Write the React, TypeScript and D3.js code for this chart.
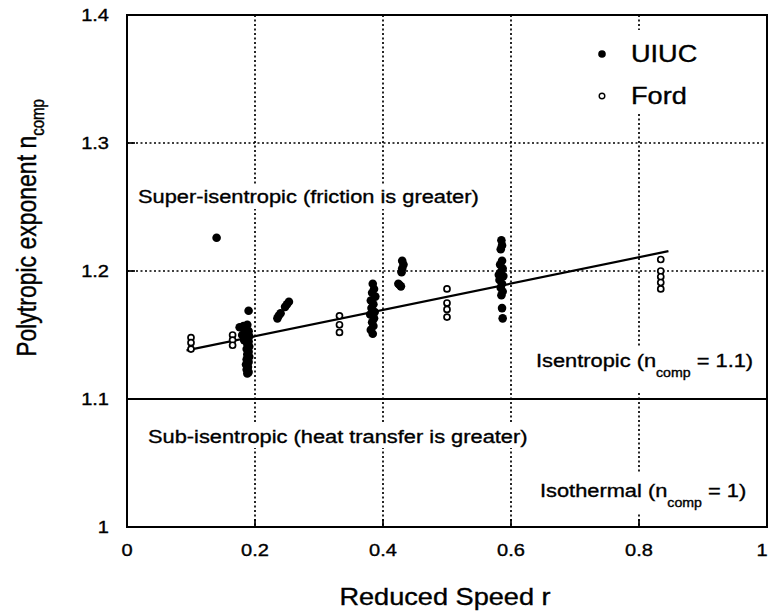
import React from "react";
import * as d3 from "d3";

const xTicks = [0, 0.2, 0.4, 0.6, 0.8, 1];
const xTickLabels = ["0", "0.2", "0.4", "0.6", "0.8", "1"];
const yTicks = [1, 1.1, 1.2, 1.3, 1.4];
const yTickLabels = ["1", "1.1", "1.2", "1.3", "1.4"];

const uiucR = [
  0.14, 0.19,
  0.176, 0.182, 0.188, 0.185, 0.19, 0.186, 0.191, 0.187, 0.19, 0.188, 0.191, 0.187, 0.19, 0.188, 0.191, 0.187, 0.19, 0.186, 0.189, 0.187, 0.19, 0.188, 0.18, 0.183,
  0.235, 0.237, 0.24, 0.247, 0.25, 0.253,
  0.384, 0.386, 0.383, 0.388, 0.381, 0.385, 0.382, 0.387, 0.38, 0.386, 0.383, 0.385, 0.381, 0.384,
  0.43, 0.432, 0.43, 0.429, 0.424, 0.428, 0.426,
  0.585, 0.586, 0.584, 0.586, 0.583, 0.587, 0.584, 0.588, 0.582, 0.586, 0.584, 0.587, 0.585, 0.581, 0.586, 0.587,
];
const uiucN = [
  1.226, 1.169,
  1.156, 1.157, 1.158, 1.155, 1.153, 1.151, 1.149, 1.147, 1.145, 1.143, 1.141, 1.139, 1.137, 1.135, 1.133, 1.131, 1.129, 1.127, 1.125, 1.123, 1.121, 1.12, 1.15, 1.146,
  1.163, 1.165, 1.167, 1.172, 1.174, 1.176,
  1.19, 1.186, 1.183, 1.18, 1.177, 1.174, 1.171, 1.168, 1.166, 1.163, 1.16, 1.157, 1.154, 1.151,
  1.208, 1.205, 1.202, 1.199, 1.19, 1.188, 1.189,
  1.224, 1.22, 1.217, 1.208, 1.205, 1.202, 1.199, 1.196, 1.193, 1.19, 1.187, 1.184, 1.181, 1.197, 1.171, 1.163,
];

const fordR = [0.1, 0.1, 0.1, 0.165, 0.165, 0.165, 0.332, 0.332, 0.332, 0.5, 0.5, 0.5, 0.5, 0.834, 0.834, 0.834, 0.834, 0.834];
const fordN = [1.148, 1.144, 1.139, 1.15, 1.146, 1.142, 1.165, 1.158, 1.152, 1.186, 1.175, 1.17, 1.164, 1.209, 1.2, 1.1955, 1.191, 1.186];

const fitR = [0.093, 0.846];
const fitN = [1.138, 1.2155];

const W = 770;
const H = 615;
const left = 127;
const right = 767;
const top = 15;
const bottom = 527;
const SX = 1.18;

const FONT = "'Liberation Sans', Arial, sans-serif";

function SText(props: { x: number; y: number; size: number; anchor?: string; children: React.ReactNode }) {
  const { x, y, size, anchor, children } = props;
  return (
    <text
      transform={`translate(${x},${y}) scale(${SX},1)`}
      fontSize={size}
      textAnchor={anchor || "start"}
      fill="#000"
      stroke="#000"
      strokeWidth={0.35}
    >
      {children}
    </text>
  );
}

export default function App() {
  const x = d3.scaleLinear().domain([0, 1]).range([left, right]);
  const y = d3.scaleLinear().domain([1, 1.4]).range([bottom, top]);
  const line = d3
    .line<number>()
    .x((_, i) => x(fitR[i]))
    .y((_, i) => y(fitN[i]));

  const dash = "2,2.5";

  return (
    <svg
      width={W}
      height={H}
      style={{ position: "absolute", left: 0, top: 0, background: "#fff" }}
      fontFamily={FONT}
    >
      <rect x={0} y={0} width={W} height={H} fill="#fff" />
      {/* vertical gridlines */}
      {xTicks.slice(1, -1).map((t) => (
        <g key={"vx" + t}>
          <line x1={x(t)} x2={x(t)} y1={top} y2={bottom} stroke="#000" strokeWidth={1.7} strokeDasharray={dash} />
          <line x1={x(t)} x2={x(t)} y1={bottom - 8} y2={bottom} stroke="#000" strokeWidth={1.7} />
        </g>
      ))}
      {/* horizontal gridlines */}
      {[1.2, 1.3].map((t) => (
        <g key={"hy" + t}>
          <line x1={left} x2={right} y1={y(t)} y2={y(t)} stroke="#000" strokeWidth={1.7} strokeDasharray={dash} />
          <line x1={left} x2={left + 8} y1={y(t)} y2={y(t)} stroke="#000" strokeWidth={1.7} />
        </g>
      ))}
      {/* isentropic line */}
      <line x1={left} x2={right} y1={y(1.1)} y2={y(1.1)} stroke="#000" strokeWidth={2} />

      {/* annotation backgrounds and texts */}
      <rect x={136} y={185} width={350} height={24} fill="#fff" />
      <SText x={138} y={203} size={18.5}>Super-isentropic (friction is greater)</SText>

      <rect x={534} y={348} width={222} height={44} fill="#fff" />
      <SText x={536} y={367} size={18.5}>
        Isentropic (n
        <tspan fontSize={12} dy={10}>comp</tspan>
        <tspan dy={-10}> = 1.1)</tspan>
      </SText>

      <rect x={146} y={424} width={390} height={24} fill="#fff" />
      <SText x={148} y={443} size={18.5}>Sub-isentropic (heat transfer is greater)</SText>

      <rect x={538} y={474} width={216} height={40} fill="#fff" />
      <SText x={540} y={497} size={18.5}>
        Isothermal (n
        <tspan fontSize={12} dy={10}>comp</tspan>
        <tspan dy={-10}> = 1)</tspan>
      </SText>

      {/* legend */}
      <rect x={588} y={30} width={122} height={82} fill="#fff" />
      <circle cx={602} cy={54} r={3.8} fill="#000" />
      <SText x={631} y={62} size={23}>UIUC</SText>
      <circle cx={602} cy={96} r={2.8} fill="#fff" stroke="#000" strokeWidth={1.4} />
      <SText x={631} y={104} size={23}>Ford</SText>

      {/* fit line */}
      <path d={line(fitR) || ""} fill="none" stroke="#000" strokeWidth={2.2} />

      {/* data */}
      {uiucR.map((r, i) => (
        <circle key={"u" + i} cx={x(r)} cy={y(uiucN[i])} r={4.3} fill="#000" />
      ))}
      {fordR.map((r, i) => (
        <circle key={"f" + i} cx={x(r)} cy={y(fordN[i])} r={3} fill="#fff" stroke="#000" strokeWidth={1.7} />
      ))}

      {/* frame */}
      <rect x={left} y={top} width={right - left} height={bottom - top} fill="none" stroke="#000" strokeWidth={2} />

      {/* tick labels */}
      {yTicks.map((t, i) => (
        <SText key={"yl" + t} x={109} y={y(t) + 6} size={17} anchor="end">
          {yTickLabels[i]}
        </SText>
      ))}
      {xTicks.map((t, i) => (
        <SText key={"xl" + t} x={Math.min(x(t), 762)} y={556} size={17} anchor="middle">
          {xTickLabels[i]}
        </SText>
      ))}

      {/* axis titles */}
      <SText x={445} y={605} size={23} anchor="middle">Reduced Speed r</SText>
      <text
        transform={`translate(36, 228) scale(${SX},1) rotate(-90)`}
        fontSize={23}
        textAnchor="middle"
        fill="#000"
        stroke="#000"
        strokeWidth={0.35}
      >
        Polytropic exponent n
        <tspan fontSize={15} dy={7}>comp</tspan>
      </text>
    </svg>
  );
}
